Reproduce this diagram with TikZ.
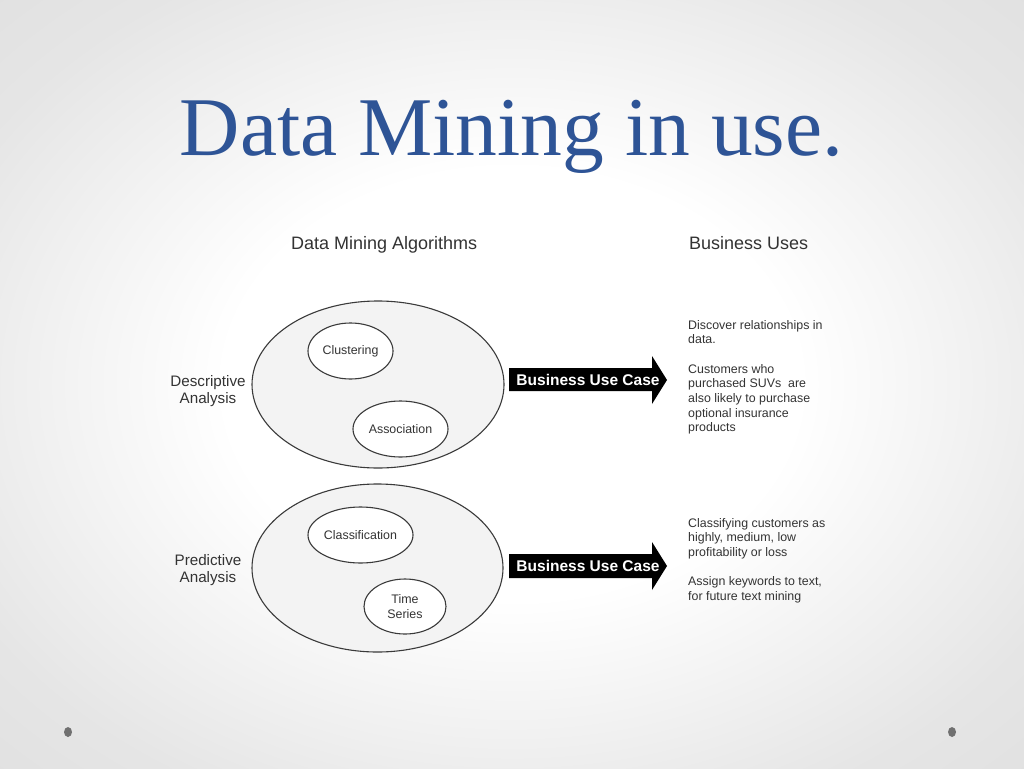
\documentclass[tikz,border=0pt]{standalone}
\usepackage{fontspec}
\setmainfont{Liberation Sans}
\newfontfamily\titlefont{Liberation Serif}
\usetikzlibrary{shapes.geometric}
\definecolor{titleblue}{HTML}{2E5496}
\definecolor{txt}{HTML}{333333}
\definecolor{edge}{HTML}{3A3A3A}
\definecolor{outerfill}{HTML}{F3F3F3}
\definecolor{dotgray}{HTML}{707070}
\pgfdeclareradialshading{slidebg}{\pgfpoint{0bp}{0bp}}{color(0bp)=(white);color(14bp)=(white);color(30bp)=(black!10);color(50bp)=(black!16)}
\begin{document}
\begin{tikzpicture}[x=1pt,y=-1pt,
  group/.style={ellipse, draw=edge, line width=1.1pt, fill=outerfill, inner sep=0pt},
  algo/.style={ellipse, draw=edge, line width=1.1pt, fill=white, inner sep=0pt,
    font=\fontsize{12.4}{15.5}\selectfont, text=txt, align=center},
  side/.style={font=\fontsize{15.2}{17.5}\selectfont, text=txt, align=center, anchor=base, inner sep=0pt},
  colhead/.style={font=\fontsize{18}{21}\selectfont, text=txt, anchor=base west, inner sep=0pt},
  use/.style={font=\fontsize{12.4}{14.7}\selectfont, text=txt, align=left, anchor=base west, inner sep=0pt},
  caselabel/.style={font=\bfseries\fontsize{15.5}{18}\selectfont, text=white, inner sep=0pt},
  casearrow/.style={fill=black},
  titlestyle/.style={font=\titlefont\fontsize{83.5}{90}\selectfont, anchor=base, inner sep=0pt}
]
\shade[shading=slidebg] (0,0) rectangle (1024,768);
\useasboundingbox (0,0) rectangle (1024,768);

% title
\node[titlestyle, text=titleblue] (title) at (511.5,155) {Data Mining in use.};

% column headers
\node[colhead] (h1) at (291,249) {Data Mining Algorithms};
\node[colhead] (h2) at (689,249) {Business Uses};

% outer groups
\node[group, minimum width=252pt, minimum height=167pt] (desc) at (378,384.5) {};
\node[group, minimum width=251pt, minimum height=168pt] (pred) at (377.5,568) {};

% algorithms
\node[algo, minimum width=85pt, minimum height=56pt] (clu) at (350.5,351) {Clustering};
\node[algo, minimum width=95pt, minimum height=56pt] (asso) at (400.5,429) {Association};
\node[algo, minimum width=105pt, minimum height=56pt] (cls) at (360.5,535) {Classification};
\node[algo, minimum width=82pt, minimum height=55pt] (ts) at (405,606.5) {Time\\Series};

% side labels (anchor = baseline of last line)
\node[side] (dl) at (208,403.5) {Descriptive\\Analysis};
\node[side] (pl) at (208,582.5) {Predictive\\Analysis};

% business use case arrows
\fill[casearrow] (509,368) -- (652,368) -- (652,356) -- (667,380) -- (652,404) -- (652,391) -- (509,391) -- cycle;
\node[caselabel] (uc1) at (588,380) {Business Use Case};
\fill[casearrow] (509,554) -- (652,554) -- (652,542) -- (667,566) -- (652,590) -- (652,578) -- (509,578) -- cycle;
\node[caselabel] (uc2) at (588,566) {Business Use Case};

% business uses text (anchor = baseline of last line)
\node[use] (u1) at (688,431.9) {Discover relationships in\\data.\\[14.7pt]Customers who\\purchased SUVs\ \ are\\also likely to purchase\\optional insurance\\products};
\node[use] (u2) at (688,600.5) {Classifying customers as\\highly, medium, low\\profitability or loss\\[14.7pt]Assign keywords to text,\\for future text mining};

% slide dots
\fill[dotgray] (68,732) ellipse (4pt and 5pt);
\fill[dotgray] (952,732) ellipse (4pt and 5pt);
\end{tikzpicture}
\end{document}
